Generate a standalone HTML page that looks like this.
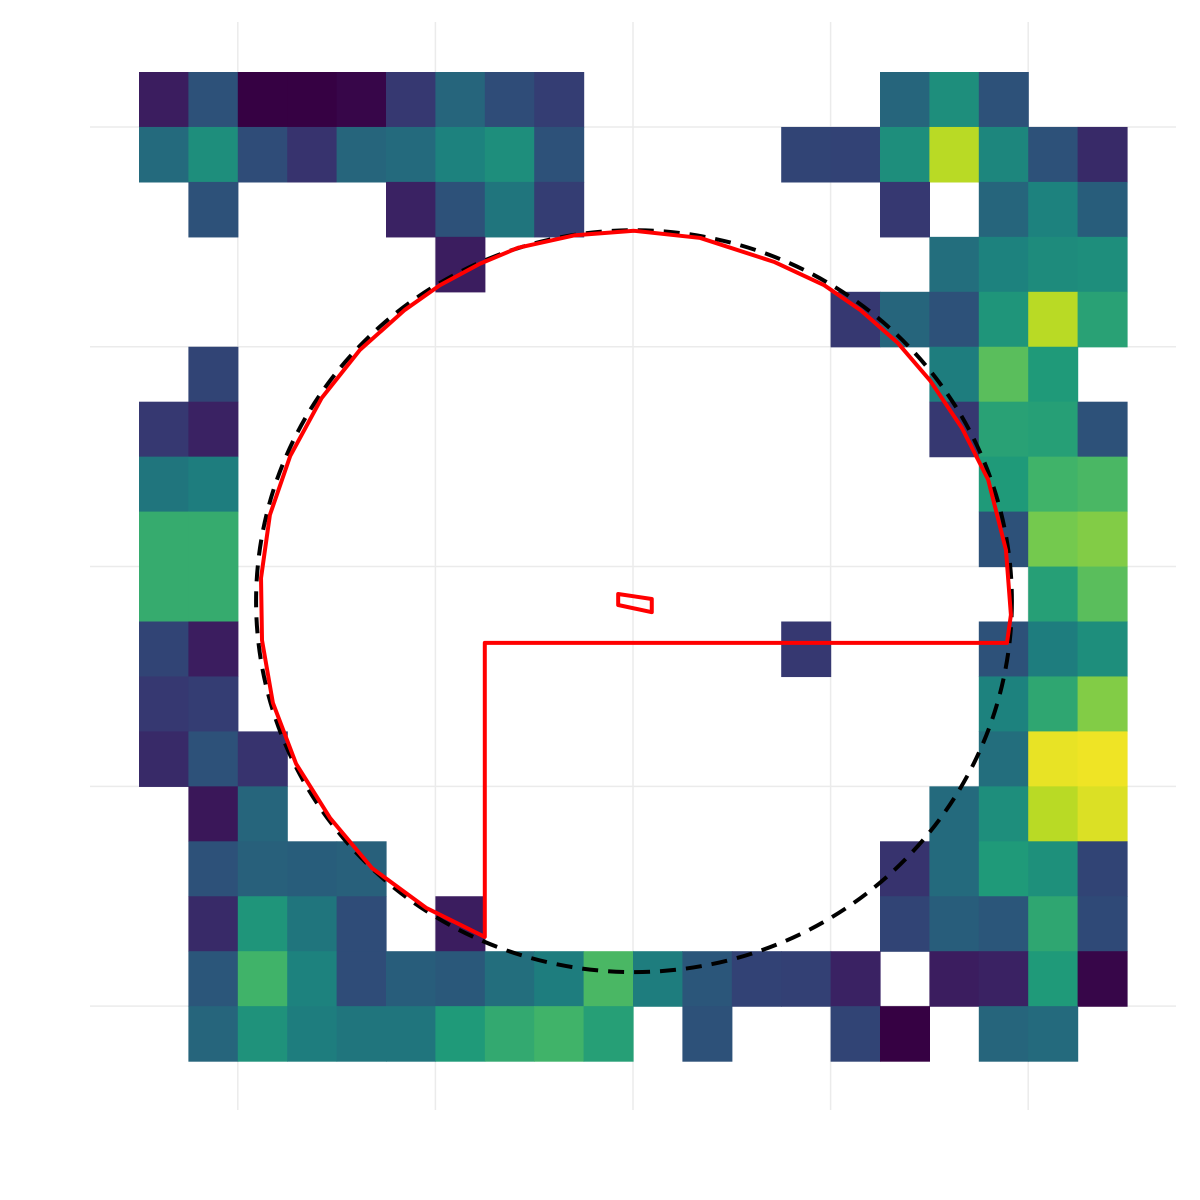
<!DOCTYPE html>
<html><head><meta charset="utf-8"><style>html,body{margin:0;padding:0;background:#fff;}svg{display:block;}</style></head>
<body>
<svg id="chart" width="1200" height="1200" viewBox="0 0 1200 1200" xmlns="http://www.w3.org/2000/svg">
<rect width="1200" height="1200" fill="#fff"/>
<g id="grid"></g>
<g id="cells"></g>
<g id="overlay"></g>
</svg>
<script>
const nCols = 20;
const nRows = 18;
// cell values per row (0..1 viridis scale), null = missing
const row00 = [0.1,0.3,0.0,0.0,0.02,0.2,0.38,0.28,0.22,null,null,null,null,null,null,0.38,0.55,0.3,null,null];
const row01 = [0.4,0.55,0.28,0.18,0.38,0.4,0.5,0.55,0.3,null,null,null,null,0.25,0.24,0.55,0.9,0.52,0.3,0.15];
const row02 = [null,0.3,null,null,null,0.12,0.3,0.45,0.22,null,null,null,null,null,null,0.2,null,0.38,0.5,0.35];
const row03 = [null,null,null,null,null,null,0.1,null,null,null,null,null,null,null,null,null,0.42,0.5,0.54,0.55];
const row04 = [null,null,null,null,null,null,null,null,null,null,null,null,null,null,0.2,0.38,0.3,0.58,0.9,0.63];
const row05 = [null,0.25,null,null,null,null,null,null,null,null,null,null,null,null,null,null,0.48,0.75,0.6,null];
const row06 = [0.2,0.12,null,null,null,null,null,null,null,null,null,null,null,null,null,null,0.2,0.63,0.62,0.3];
const row07 = [0.45,0.48,null,null,null,null,null,null,null,null,null,null,null,null,null,null,null,0.6,0.7,0.72];
const row08 = [0.67,0.67,null,null,null,null,null,null,null,null,null,null,null,null,null,null,null,0.3,0.8,0.82];
const row09 = [0.67,0.67,null,null,null,null,null,null,null,null,null,null,null,null,null,null,null,null,0.62,0.75];
const row10 = [0.25,0.1,null,null,null,null,null,null,null,null,null,null,null,0.2,null,null,null,0.3,0.48,0.55];
const row11 = [0.2,0.22,null,null,null,null,null,null,null,null,null,null,null,null,null,null,null,0.5,0.65,0.82];
const row12 = [0.15,0.3,0.18,null,null,null,null,null,null,null,null,null,null,null,null,null,null,0.42,0.97,0.98];
const row13 = [null,0.08,0.38,null,null,null,null,null,null,null,null,null,null,null,null,null,0.4,0.55,0.9,0.95];
const row14 = [null,0.3,0.36,0.35,0.36,null,null,null,null,null,null,null,null,null,null,0.18,0.4,0.6,0.56,0.25];
const row15 = [null,0.15,0.58,0.45,0.28,null,0.1,null,null,null,null,null,null,null,null,0.25,0.35,0.32,0.65,0.27];
const row16 = [null,0.32,0.7,0.5,0.28,0.35,0.33,0.42,0.48,0.72,0.48,0.32,0.24,0.23,0.12,null,0.1,0.12,0.6,0.02];
const row17 = [null,0.38,0.57,0.48,0.45,0.45,0.6,0.66,0.7,0.62,null,0.3,null,null,0.25,0.0,null,0.38,0.4,null];
const rows = [row00,row01,row02,row03,row04,row05,row06,row07,row08,row09,row10,row11,row12,row13,row14,row15,row16,row17];
// circle (data units: column/row index space)
const circleCenter = [10.02, 9.63];
const circleRadius = [7.65, 6.75];
// red boundary polygon in data units
const polyX = [7,7,17.57,17.65,17.55,17.19,16.66,16.01,15.36,14.6,13.87,12.87,11.36,10.02,8.83,7.67,6.9,6.09,5.38,4.47,3.7,3.06,2.65,2.47,2.49,2.71,3.18,3.87,4.72,5.81];
const polyY = [15.74,10.39,10.39,9.88,8.7,7.42,6.48,5.61,4.93,4.33,3.88,3.46,3.02,2.89,2.97,3.2,3.49,3.88,4.33,5.06,5.93,6.99,8.06,9.21,10.34,11.48,12.59,13.58,14.49,15.21];
const smallX = [9.7,10.38,10.38,9.7];
const smallY = [9.5,9.59,9.83,9.7];

const x0 = 139, cw = 49.4, y0 = 72, ch = 54.95;
const sx = c => x0 + c*cw;
const sy = r => y0 + r*ch;
const NS = 'http://www.w3.org/2000/svg';
const vir = [[68,1,84],[72,35,116],[64,67,135],[52,94,141],[41,120,142],[32,144,140],[34,167,132],[68,190,112],[121,209,81],[189,222,38],[253,231,37]];
function viridis(t){t=Math.max(0,Math.min(1,t));const p=t*10,i=Math.min(9,Math.floor(p)),f=p-i;const a=vir[i],b=vir[i+1];const k=0.8+0.2*t;return 'rgb('+a.map((v,j)=>Math.round((v+(b[j]-v)*f)*k)).join(',')+')';}

const grid = document.getElementById('grid');
for (let k=0;k<5;k++){
  const gx=sx(2+4*k);
  const l=document.createElementNS(NS,'line');
  l.setAttribute('x1',gx);l.setAttribute('x2',gx);l.setAttribute('y1',22);l.setAttribute('y2',1110);
  l.setAttribute('stroke','#ebebeb');l.setAttribute('stroke-width','1.5');
  
  
  grid.appendChild(l);
  const gy=sy(1+4*k);
  const m=document.createElementNS(NS,'line');
  m.setAttribute('x1',90);m.setAttribute('x2',1176);m.setAttribute('y1',gy);m.setAttribute('y2',gy);
  m.setAttribute('stroke','#ebebeb');m.setAttribute('stroke-width','1.5');
  
  
  grid.appendChild(m);
}
const cells = document.getElementById('cells');
rows.forEach((row,r)=>row.forEach((v,c)=>{
  if(v===null) return;
  const rc=document.createElementNS(NS,'rect');
  rc.setAttribute('x',sx(c));rc.setAttribute('y',sy(r));
  rc.setAttribute('width',cw+0.6);rc.setAttribute('height',ch+0.6);
  rc.setAttribute('fill',viridis(v));
  
  
  cells.appendChild(rc);
}));
const ov = document.getElementById('overlay');
const el=document.createElementNS(NS,'ellipse');
el.setAttribute('cx',sx(circleCenter[0]));el.setAttribute('cy',sy(circleCenter[1]));
el.setAttribute('rx',circleRadius[0]*cw);el.setAttribute('ry',circleRadius[1]*ch);
el.setAttribute('fill','none');el.setAttribute('stroke','#000');el.setAttribute('stroke-width','4');el.setAttribute('stroke-dasharray','16 10');


ov.appendChild(el);
function poly(xs,ys,name){
  const p=document.createElementNS(NS,'polygon');
  p.setAttribute('points',xs.map((x,i)=>sx(x)+','+sy(ys[i])).join(' '));
  p.setAttribute('fill','none');p.setAttribute('stroke','#ff0000');p.setAttribute('stroke-width','4');p.setAttribute('stroke-linejoin','round');
  
  
  ov.appendChild(p);
}
poly(polyX,polyY,'red-boundary');
poly(smallX,smallY,'red-small-polygon');
</script>
</body></html>
